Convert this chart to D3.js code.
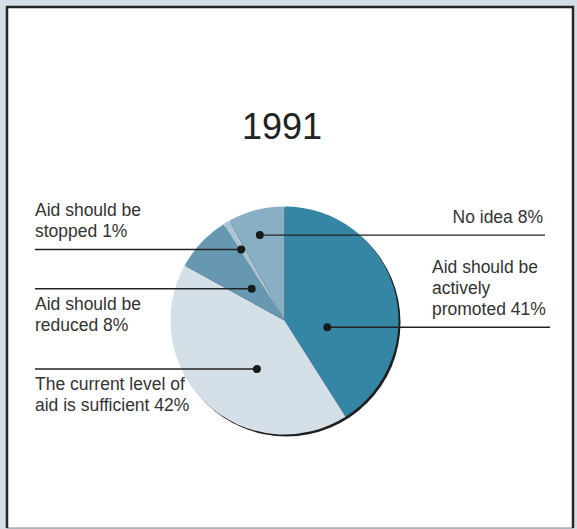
<!DOCTYPE html>
<html><head><meta charset="utf-8">
<script src="https://cdn.jsdelivr.net/npm/d3@7"></script>
<style>
html,body{margin:0;padding:0;background:#d5dee6;}
svg{display:block;}
text{font-family:"Liberation Sans",Arial,Helvetica,sans-serif;}
</style></head>
<body>
<script>
// ---- data ----
const title = "1991";
const categories = ["Aid should be actively promoted", "The current level of aid is sufficient", "Aid should be reduced", "Aid should be stopped", "No idea"];
const values = [41, 42, 8, 1, 8];
const labelLines = [
  ["Aid should be", "actively", "promoted 41%"],
  ["The current level of", "aid is sufficient 42%"],
  ["Aid should be", "reduced 8%"],
  ["Aid should be", "stopped 1%"],
  ["No idea 8%"]
];
const colors = ["#3585a4", "#d5dfe7", "#6699b1", "#aac4d3", "#88afc3"];

// ---- layout (styling only) ----
const W = 577, H = 529;
const cx = 284.5, cy = 320.5, R = 114;
// dot placement: fraction along slice angle, fraction of radius; label side & placement
const labelLayout = [
  {t: 0.67, rf: 0.38, side: "right", pos: "above", endX: 550, textX: 432},
  {t: 0.41, rf: 0.49, side: "left", pos: "below", endX: 35, textX: 35},
  {t: 0.53, rf: 0.40, side: "left", pos: "below", endX: 35, textX: 35},
  {t: 0.28, rf: 0.73, side: "left", pos: "above", endX: 35, textX: 35},
  {t: 0.44, rf: 0.78, side: "right", pos: "above", endX: 545, textX: 543, anchor: "end"}
];

const svg = d3.select("body").append("svg").attr("width", W).attr("height", H);

// frame
svg.append("rect").attr("x", 0).attr("y", 0).attr("width", W).attr("height", H).attr("fill", "#d5dee6");
svg.append("rect").attr("x", 7).attr("y", 7).attr("width", 566).attr("height", 521)
  .attr("fill", "#fff").attr("stroke", "#888").attr("stroke-width", 1);
svg.append("path").attr("d", "M7,528 L7,7 L573,7 L573,528")
  .attr("fill", "none").attr("stroke", "#262626").attr("stroke-width", 2.5);

// title
svg.append("text").attr("x", 282).attr("y", 139).attr("text-anchor", "middle")
  .attr("font-size", 36).attr("fill", "#222").text(title);

const pie = d3.pie().sort(null).value(d => d)(values);
const arc = d3.arc().innerRadius(0).outerRadius(R);

// shadow
svg.append("circle").attr("cx", cx + 2).attr("cy", cy + 2).attr("r", R).attr("fill", "#1f1f1f");

const g = svg.append("g").attr("transform", `translate(${cx},${cy})`);
g.selectAll("path.slice").data(pie).enter().append("path")
  .attr("class", "slice").attr("d", arc).attr("fill", (d, i) => colors[i]);

// leaders, dots, labels
pie.forEach((d, i) => {
  const L = labelLayout[i];
  const a = d.startAngle + (d.endAngle - d.startAngle) * L.t;
  const r = R * L.rf;
  const px = cx + r * Math.sin(a), py = cy - r * Math.cos(a);
  svg.append("line").attr("x1", px).attr("y1", py).attr("x2", L.endX).attr("y2", py)
    .attr("stroke", "#222").attr("stroke-width", 1.4);
  svg.append("circle").attr("cx", px).attr("cy", py).attr("r", 4).attr("fill", "#1a1a1a");
  const lines = labelLines[i];
  const lh = 21;
  let firstBase;
  if (L.pos === "above") firstBase = py - 12 - (lines.length - 1) * lh;
  else firstBase = py + 21;
  const t = svg.append("text").attr("font-size", 17.5).attr("fill", "#333")
    .attr("text-anchor", L.anchor || "start");
  lines.forEach((s, k) => {
    t.append("tspan").attr("x", L.textX).attr("y", firstBase + k * lh).text(s);
  });
});
</script>
</body></html>
